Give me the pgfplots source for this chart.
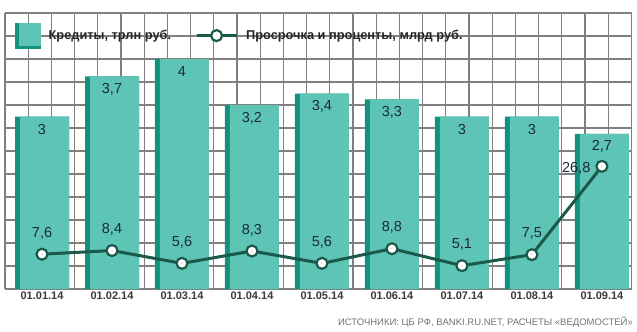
\documentclass[border=0pt]{standalone}
\usepackage{pgfplots}
\pgfplotsset{compat=1.18}
\usepackage{pgfplotstable}
\usepackage{fontspec}
\setmainfont{Liberation Sans}
\definecolor{lteal}{HTML}{5EC4B6}
\definecolor{dteal}{HTML}{12917C}
\definecolor{lgreen}{HTML}{1B5A4A}
\definecolor{gridc}{HTML}{808080}
\definecolor{lab}{HTML}{1C2A3A}
\definecolor{tickc}{HTML}{3A3A3A}

\pgfplotstableread{
x cred
0 3
1 3.7
2 4
3 3.2
4 3.4
5 3.3
6 3
7 3
8 2.7
}\credits

\pgfplotstableread{
x over
0 7.6
1 8.4
2 5.6
3 8.3
4 5.6
5 8.8
6 5.1
7 7.5
8 26.8
}\overdue

\begin{document}
\begin{tikzpicture}
\path[use as bounding box] (0bp,0bp) rectangle (637bp,332bp);
\fill[white] (0bp,0bp) rectangle (637bp,332bp);

\begin{axis}[
  at={(5bp,43bp)}, anchor=south west, scale only axis,
  width=627bp, height=276bp,
  xmin=-0.529, xmax=8.43, ymin=0, ymax=4.8,
  axis line style={draw=none},
  ytick={0,0.4,0.8,1.2,1.6,2,2.4,2.8,3.2,3.6,4,4.4,4.8},
  yticklabels={},
  xtick={-0.5286,-0.1971,0.1343,0.4657,0.7971,1.1286,1.4600,1.7914,2.1229,2.4543,2.7857,3.1171,3.4486,3.7800,4.1114,4.4429,4.7743,5.1057,5.4371,5.7686,6.1000,6.4314,6.7629,7.0943,7.4257,7.7571,8.0886,8.4200},
  xticklabels={},
  grid=major,
  major grid style={gridc, line width=1.2bp},
  major tick length=0pt,
  extra x ticks={0,1,2,3,4,5,6,7,8},
  extra x tick labels={01.01.14,01.02.14,01.03.14,01.04.14,01.05.14,01.06.14,01.07.14,01.08.14,01.09.14},
  extra x tick style={grid=none, major tick length=0pt,
    xticklabel style={font=\fontsize{11bp}{13bp}\selectfont\bfseries, text=tickc, anchor=north, yshift=-3bp, inner sep=0pt}},
  /pgf/number format/use comma,
  /pgf/number format/assume math mode=true,
  clip=false,
]
\addplot[ybar, bar width=54bp, bar shift=0pt, fill=dteal, draw=none] table[x=x,y=cred]{\credits};
\addplot[ybar, bar width=49bp, bar shift=2.5bp, fill=lteal, draw=none,
  nodes near coords,
  every node near coord/.append style={anchor=center, yshift=-13bp, font=\fontsize{14.5bp}{16bp}\selectfont, text=lab}]
  table[x=x,y=cred]{\credits};
\end{axis}

\begin{axis}[
  at={(5bp,43bp)}, anchor=south west, scale only axis,
  width=627bp, height=276bp,
  xmin=-0.529, xmax=8.43, ymin=0, ymax=60.3,
  hide axis, clip=false,
  /pgf/number format/use comma,
  /pgf/number format/assume math mode=true,
  legend columns=2,
  legend style={at={(axis description cs:0.016,0.918)}, anchor=west, draw=none, fill=none,
    inner sep=0pt, font=\fontsize{12.8bp}{14bp}\selectfont\bfseries, text=black!85,
    /tikz/every even column/.append style={column sep=22bp},
    /tikz/every odd column/.append style={column sep=6bp}},
  legend cell align=left,
]
\addlegendimage{legend image code/.code={
  \fill[dteal] (0bp,-12.5bp) rectangle (25bp,12.5bp);
  \fill[lteal] (4bp,-9.5bp) rectangle (25bp,12.5bp);}}
\addlegendentry{Кредиты, трлн руб.}
\addplot[lgreen, line width=3bp, mark=*, mark size=5.5bp,
  mark options={fill=white, draw=lgreen, line width=2.2bp},
  legend image code/.code={
   \draw[lgreen, line width=3bp] (0bp,0bp) -- (40bp,0bp);
   \draw[lgreen, line width=2.2bp, fill=white] (20bp,0bp) circle (5.5bp);}]
  table[x=x,y=over]{\overdue};
\addlegendentry{Просрочка и проценты, млрд руб.}
\addplot[only marks, mark=*, mark size=0.01bp, mark options={draw=none, fill=none},
  restrict x to domain=0:7, forget plot,
  nodes near coords,
  every node near coord/.append style={anchor=center, yshift=21bp, font=\fontsize{14.5bp}{16bp}\selectfont, text=lab}]
  table[x=x,y=over]{\overdue};
\addplot[only marks, mark=*, mark size=0.01bp, mark options={draw=none, fill=none},
  restrict x to domain=8:8, forget plot,
  nodes near coords,
  every node near coord/.append style={anchor=east, xshift=-8bp, yshift=-2bp, font=\fontsize{14.5bp}{16bp}\selectfont, text=lab}]
  table[x=x,y=over]{\overdue};
\end{axis}

\node[anchor=east, inner sep=0pt, font=\fontsize{9.5bp}{11bp}\selectfont, text=black!55] at (633bp,10bp)
  {ИСТОЧНИКИ: ЦБ РФ, BANKI.RU.NET, РАСЧЕТЫ «ВЕДОМОСТЕЙ»};
\end{tikzpicture}
\end{document}
